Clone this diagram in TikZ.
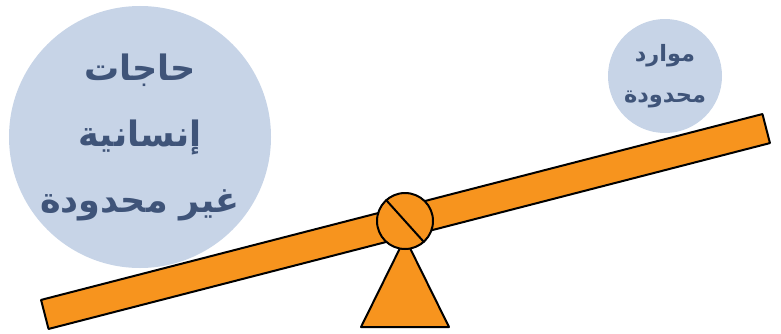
\documentclass[tikz,border=0pt]{standalone}
\usepackage{fontspec}
\newfontfamily\arabicfont[Script=Arabic]{DejaVu Sans}
\TeXXeTstate=1
\usepackage{tikz}
\definecolor{seesaw}{HTML}{F7941E}
\definecolor{bubblefill}{HTML}{C7D4E7}
\definecolor{slate}{HTML}{3F5479}
\tikzset{
    every picture/.style={line join=round},
    bubble/.style={circle,fill=bubblefill,draw=none,inner sep=0pt},
    bubbletext/.style={text=slate,align=center,inner sep=0pt},
    part/.style={draw=black,fill=seesaw,line width=2pt},
    plank/.style={part,rectangle,inner sep=0pt,minimum width=745pt,
      minimum height=30pt,rotate=14.45},
    hinge/.style={part,circle,inner sep=0pt,minimum size=56pt}
}

\begin{document}
\begin{tikzpicture}[x=1pt,y=1pt]
  \useasboundingbox (0,0) rectangle (781,333);
  % the two weights
  \node[bubble,minimum size=262pt] (needs) at (140,196) {};
  \node[bubble,minimum size=114pt] (means) at (665,257) {};
  \node[bubbletext,font=\arabicfont\bfseries\fontsize{35}{66}\selectfont]
    (needstxt) at (needs) {\beginR حاجات\endR\\ \beginR إنسانية\endR\\ \beginR غير محدودة\endR};
  \node[bubbletext,font=\arabicfont\bfseries\fontsize{22.5}{41}\selectfont]
    (meanstxt) at (means) {\beginR موارد\endR\\ \beginR محدودة\endR};
  % stand, plank and hinge
  \draw[part] (361,6) -- (449,6) -- (405,95) -- cycle;
  \node[plank] (bar) at (405.5,111.5) {};
  \node[hinge] (pivot) at (405,112) {};
  \draw[line width=2pt] (pivot.132) -- (pivot.-48);
\end{tikzpicture}
\end{document}
